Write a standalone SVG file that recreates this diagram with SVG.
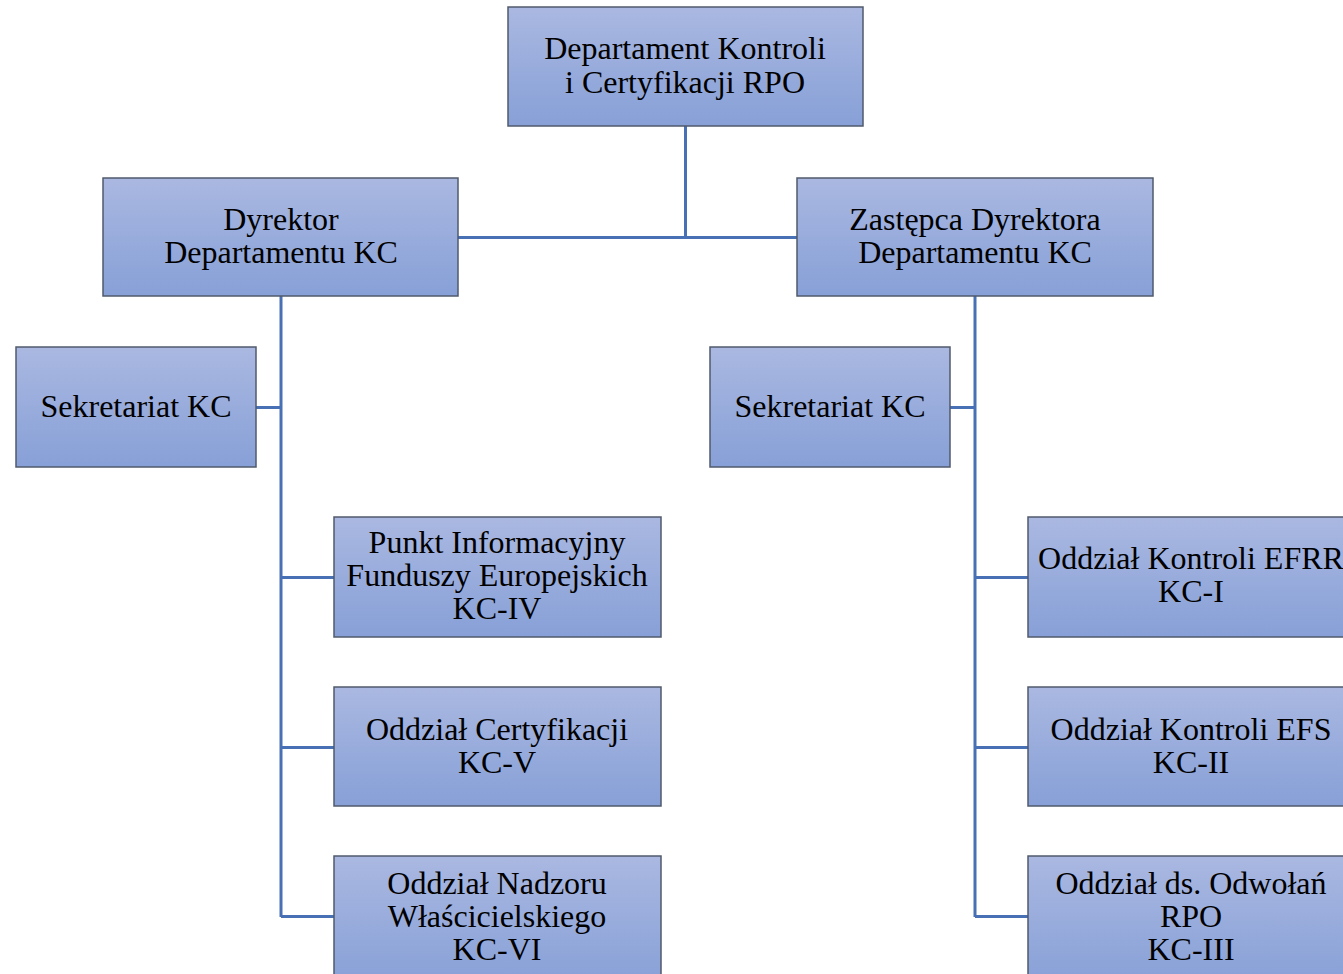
<svg xmlns="http://www.w3.org/2000/svg" width="1343" height="974" viewBox="0 0 1343 974">
<defs>
<linearGradient id="g" x1="0" y1="0" x2="0" y2="1">
<stop offset="0" stop-color="#aab8e1"/>
<stop offset="1" stop-color="#87a0d7"/>
</linearGradient>
<style>
.box{fill:url(#g);stroke:#505a6c;stroke-width:1.5}
.t{font-family:"Liberation Serif","Times New Roman",serif;font-size:32px;fill:#000;text-anchor:middle}
.c{stroke:#4870b4;stroke-width:3;fill:none}
</style>
</defs>
<rect width="1343" height="974" fill="#fff"/>
<g id="connectors">
<path class="c" d="M685.5 126V237M458 237.5H797"/>
<path class="c" d="M281 296V917M256 407.5H281M281 577.5H334M281 747.5H334M281 916.5H334"/>
<path class="c" d="M975 296V917M950 407.5H975M975 577.5H1028M975 747.5H1028M975 916.5H1028"/>
</g>
<g id="n-top"><rect class="box" x="508" y="7" width="355" height="119"/><text class="t" x="685" y="59">Departament Kontroli</text><text class="t" x="685" y="93">i Certyfikacji RPO</text></g>
<g id="n-dyr"><rect class="box" x="103" y="178" width="355" height="118"/><text class="t" x="281" y="230">Dyrektor</text><text class="t" x="281" y="263">Departamentu KC</text></g>
<g id="n-zast"><rect class="box" x="797" y="178" width="356" height="118"/><text class="t" x="975" y="230">Zastępca Dyrektora</text><text class="t" x="975" y="263">Departamentu KC</text></g>
<g id="n-sek1"><rect class="box" x="16" y="347" width="240" height="120"/><text class="t" x="136" y="417">Sekretariat KC</text></g>
<g id="n-sek2"><rect class="box" x="710" y="347" width="240" height="120"/><text class="t" x="830" y="417">Sekretariat KC</text></g>
<g id="n-kc4"><rect class="box" x="334" y="517" width="327" height="120"/><text class="t" x="497" y="553">Punkt Informacyjny</text><text class="t" x="497" y="586">Funduszy Europejskich</text><text class="t" x="497" y="619">KC-IV</text></g>
<g id="n-kc5"><rect class="box" x="334" y="687" width="327" height="119"/><text class="t" x="497" y="740">Oddział Certyfikacji</text><text class="t" x="497" y="773">KC-V</text></g>
<g id="n-kc6"><rect class="box" x="334" y="856" width="327" height="130"/><text class="t" x="497" y="894">Oddział Nadzoru</text><text class="t" x="497" y="927">Właścicielskiego</text><text class="t" x="497" y="960">KC-VI</text></g>
<g id="n-kc1"><rect class="box" x="1028" y="517" width="330" height="120"/><text class="t" x="1191" y="569">Oddział Kontroli EFRR</text><text class="t" x="1191" y="602">KC-I</text></g>
<g id="n-kc2"><rect class="box" x="1028" y="687" width="330" height="119"/><text class="t" x="1191" y="740">Oddział Kontroli EFS</text><text class="t" x="1191" y="773">KC-II</text></g>
<g id="n-kc3"><rect class="box" x="1028" y="856" width="330" height="130"/><text class="t" x="1191" y="894">Oddział ds. Odwołań</text><text class="t" x="1191" y="927">RPO</text><text class="t" x="1191" y="960">KC-III</text></g>
</svg>
